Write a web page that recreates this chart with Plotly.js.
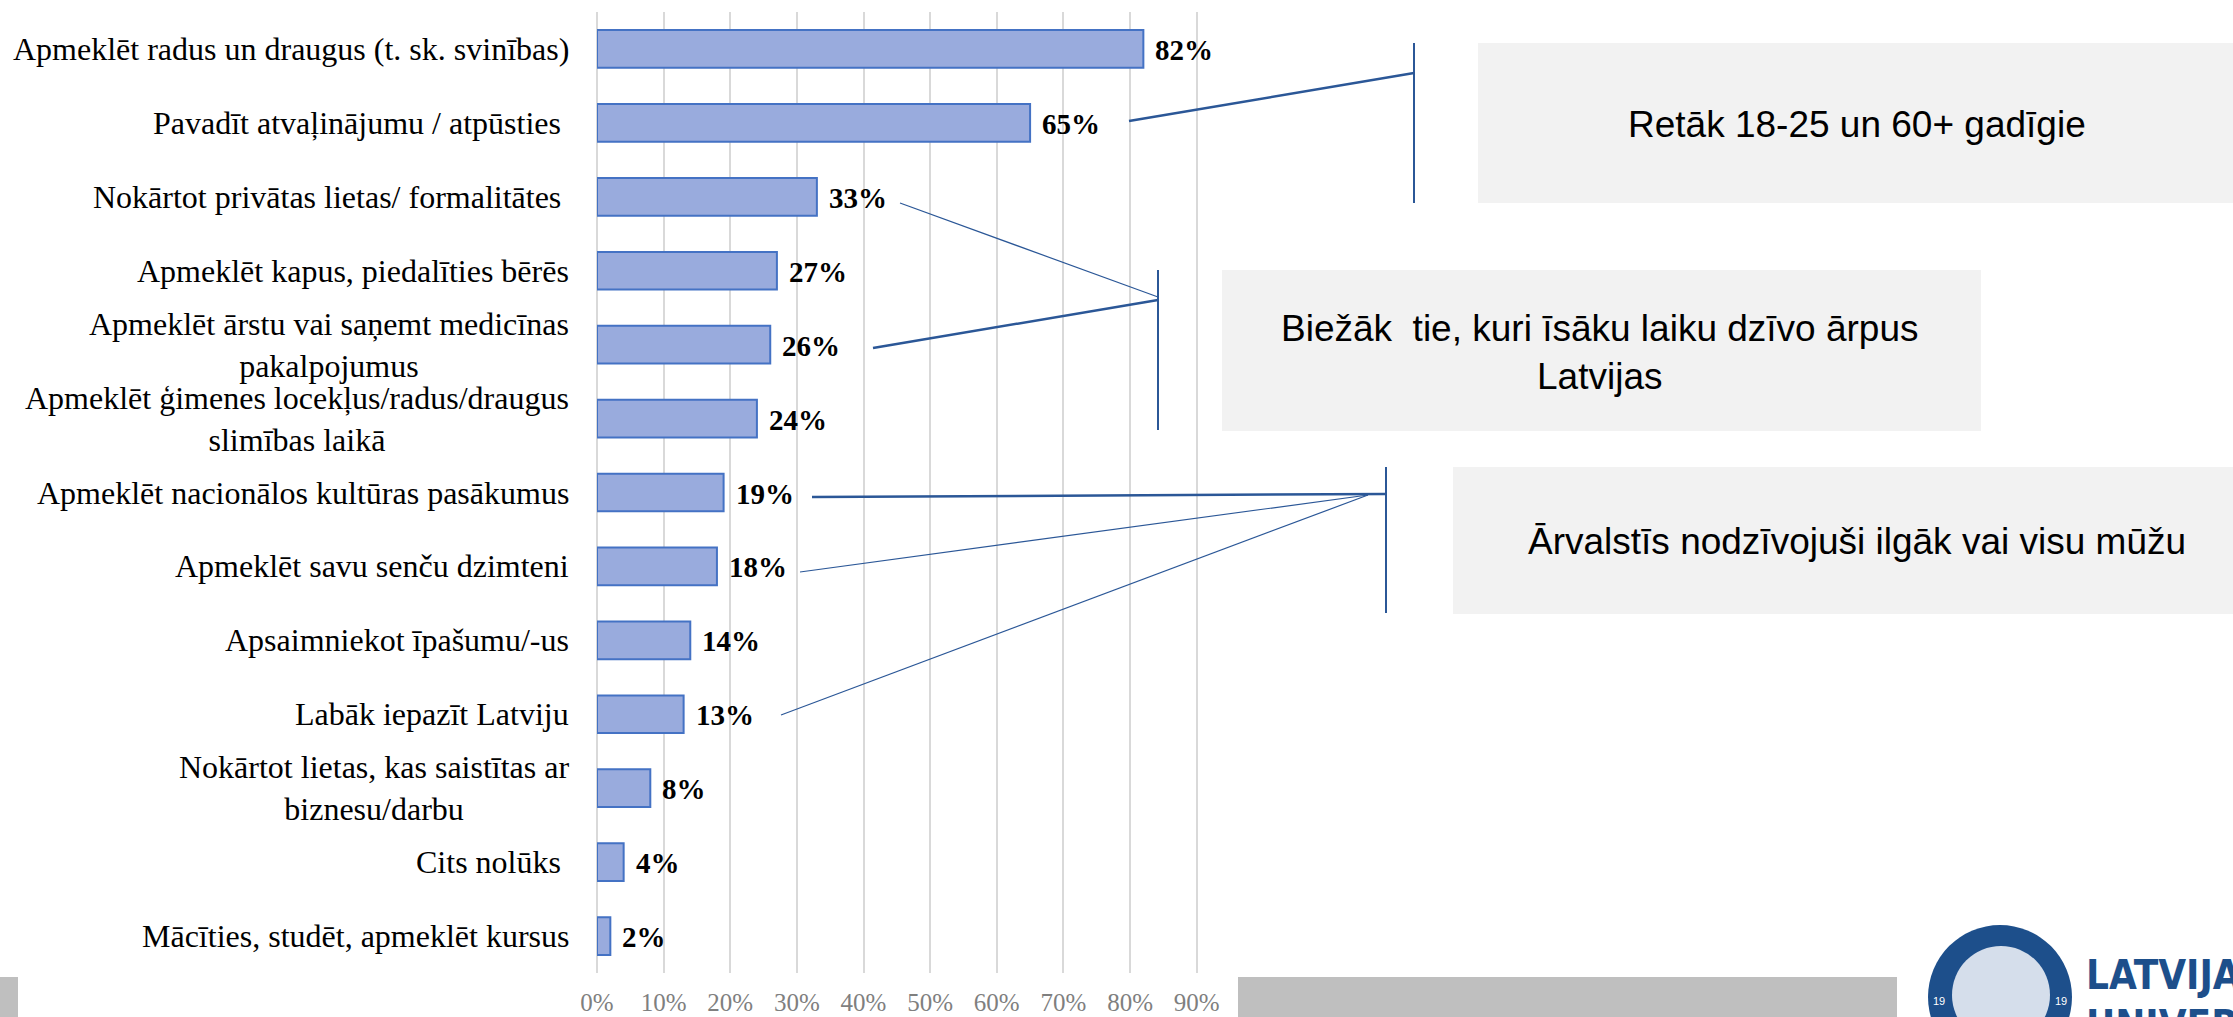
<!DOCTYPE html>
<html>
<head>
<meta charset="utf-8">
<script src="https://cdn.plot.ly/plotly-3.0.1.min.js"></script>
<style>
html,body{margin:0;padding:0;background:#fff;}
#chart{width:2233px;height:1017px;}
</style>
</head>
<body>
<div id="chart"></div>
<script>
// ---- data ----
const categories = [
  "Apmeklēt radus un draugus (t. sk. svinības)",
  "Pavadīt atvaļinājumu / atpūsties\u00a0",
  "Nokārtot privātas lietas/ formalitātes\u00a0",
  "Apmeklēt kapus, piedalīties bērēs",
  "Apmeklēt ārstu vai saņemt medicīnas<br>pakalpojumus",
  "Apmeklēt ģimenes locekļus/radus/draugus<br>slimības laikā",
  "Apmeklēt nacionālos kultūras pasākumus",
  "Apmeklēt savu senču dzimteni",
  "Apsaimniekot īpašumu/-us",
  "Labāk iepazīt Latviju",
  "Nokārtot lietas, kas saistītas ar<br>biznesu/darbu",
  "Cits nolūks\u00a0",
  "Mācīties, studēt, apmeklēt kursus"
];
const values = [0.82, 0.65, 0.33, 0.27, 0.26, 0.24, 0.19, 0.18, 0.14, 0.13, 0.08, 0.04, 0.02];
const xTickValues = [0, 0.1, 0.2, 0.3, 0.4, 0.5, 0.6, 0.7, 0.8, 0.9];

const noteTexts = [
  "Retāk 18-25 un 60+ gadīgie",
  "Biežāk\u00a0 tie, kuri īsāku laiku dzīvo ārpus<br>Latvijas",
  "Ārvalstīs nodzīvojuši ilgāk vai visu mūžu"
];
const logoTexts = ["LATVIJAS", "UNIVERSITĀTE"];

// ---- layout geometry (pixels) ----
const W = 2233, H = 1017;
const ML = 597, PW = 603, MT = 12, PH = 961;
const px = v => (v - ML) / PW;
const py = v => 1 - (v - MT) / PH;

const serif = "'Liberation Serif', 'Times New Roman', serif";
const sans = "'Liberation Sans', Arial, sans-serif";
const lineCol = "#2B5797";

const shapes = [];
const annotations = [];

function line(x0, y0, x1, y1, w) {
  shapes.push({type: 'line', xref: 'paper', yref: 'paper',
    x0: px(x0), y0: py(y0), x1: px(x1), y1: py(y1),
    line: {color: lineCol, width: w}});
}
function rect(x0, y0, x1, y1, col, layer) {
  shapes.push({type: 'rect', xref: 'paper', yref: 'paper',
    x0: px(x0), y0: py(y0), x1: px(x1), y1: py(y1),
    fillcolor: col, line: {width: 0}, layer: layer || 'above'});
}

// footer grey band pieces
rect(0, 977, 18, 1017, '#BFBFBF', 'below');
rect(1238, 977, 1897, 1017, '#BFBFBF', 'below');

// note boxes
rect(1478, 43, 2240, 203, '#F2F2F2');
rect(1222, 270, 1981, 431, '#F2F2F2');
rect(1453, 467, 2240, 614, '#F2F2F2');

// brackets
line(1129, 121, 1414, 73, 2.5);
line(1414, 43, 1414, 203, 2);
line(900, 203, 1158, 297, 1.2);
line(873, 348, 1158, 300, 2.5);
line(1158, 270, 1158, 430, 2);
line(812, 497, 1386, 494, 2.5);
line(800, 572, 1368, 495, 1.2);
line(781, 715, 1368, 495, 1.2);
line(1386, 467, 1386, 613, 2);

// logo
shapes.push({type: 'circle', xref: 'paper', yref: 'paper',
  x0: px(1928), x1: px(2072), y0: py(925), y1: py(1069),
  fillcolor: '#1D4F8B', line: {width: 0}, layer: 'above'});
shapes.push({type: 'circle', xref: 'paper', yref: 'paper',
  x0: px(1952), x1: px(2050), y0: py(946), y1: py(1044),
  fillcolor: '#D5DEEB', line: {width: 0}, layer: 'above'});

// note texts
const notePos = [[1857, 124], [1600, 352], [1857, 541]];
noteTexts.forEach((t, i) => {
  annotations.push({xref: 'paper', yref: 'paper', x: px(notePos[i][0]), y: py(notePos[i][1]),
    xanchor: 'center', yanchor: 'middle', align: 'center', showarrow: false,
    text: t, font: {family: sans, size: 37, color: '#000000'}});
});

// logo texts
annotations.push({xref: 'paper', yref: 'paper', x: px(2084), y: py(975),
  xanchor: 'left', yanchor: 'middle', showarrow: false, text: logoTexts[0],
  font: {family: "'DejaVu Sans Condensed', 'Liberation Sans', sans-serif", size: 40, color: '#1D4F8B', weight: 'bold'}});
annotations.push({xref: 'paper', yref: 'paper', x: px(2084), y: py(1024),
  xanchor: 'left', yanchor: 'middle', showarrow: false, text: logoTexts[1],
  font: {family: "'DejaVu Sans Condensed', 'Liberation Sans', sans-serif", size: 40, color: '#1D4F8B', weight: 'bold'}});
[[1939, 1001], [2061, 1001]].forEach(p => {
  annotations.push({xref: 'paper', yref: 'paper', x: px(p[0]), y: py(p[1]),
    xanchor: 'center', yanchor: 'middle', showarrow: false, text: '19',
    font: {family: sans, size: 11, color: '#FFFFFF'}});
});

// category labels
categories.forEach(c => {
  annotations.push({xref: 'paper', yref: 'y', x: px(571), y: c,
    xanchor: 'right', yanchor: 'middle', align: 'center', showarrow: false,
    text: c, font: {family: serif, size: 32, color: '#000000'}});
});

// value labels
values.forEach((v, i) => {
  annotations.push({xref: 'x', yref: 'y', x: v, y: categories[i],
    xanchor: 'left', yanchor: 'middle', xshift: 10, yshift: -1, showarrow: false,
    text: '<b>' + Math.round(v * 100) + '%</b>',
    font: {family: serif, size: 29, color: '#000000'}});
});

const trace = {
  type: 'bar', orientation: 'h',
  x: values, y: categories,
  marker: {color: '#99ABDD', line: {color: '#4472C4', width: 2}},
  hoverinfo: 'none'
};

const layout = {
  width: W, height: H,
  margin: {l: ML, r: W - ML - PW, t: MT, b: H - MT - PH, pad: 0},
  paper_bgcolor: '#FFFFFF', plot_bgcolor: '#FFFFFF',
  showlegend: false,
  bargap: 0.49,
  xaxis: {
    range: [0, 0.905], tickvals: xTickValues, tickformat: '.0%',
    showgrid: true, gridcolor: '#D9D9D9', gridwidth: 2,
    zeroline: true, zerolinecolor: '#D9D9D9', zerolinewidth: 2,
    showline: false, ticks: 'outside', ticklen: 7, tickcolor: 'rgba(0,0,0,0)',
    tickfont: {family: serif, size: 25, color: '#7F7F7F'},
    fixedrange: true
  },
  yaxis: {
    type: 'category', autorange: 'reversed',
    showticklabels: false, showgrid: false, zeroline: false, showline: false,
    ticks: '', fixedrange: true
  },
  shapes: shapes,
  annotations: annotations
};

Plotly.newPlot('chart', [trace], layout, {staticPlot: true, displayModeBar: false});
</script>
</body>
</html>
